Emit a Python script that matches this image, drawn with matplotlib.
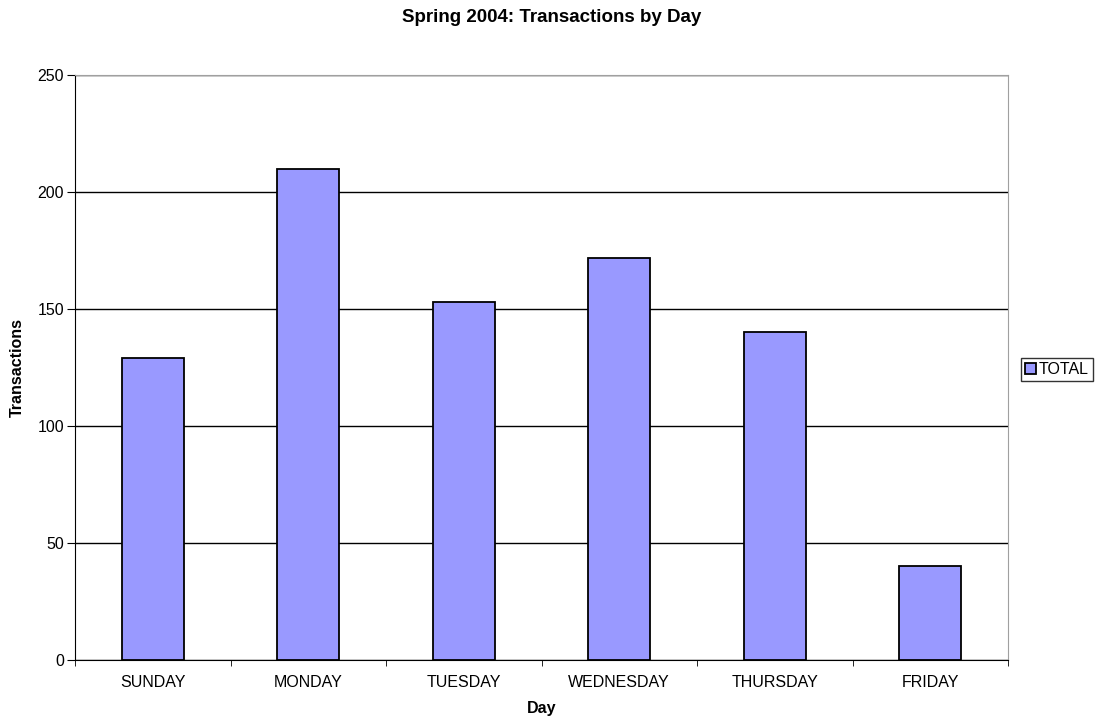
import matplotlib
matplotlib.use("Agg")
import matplotlib.pyplot as plt
import numpy as np

plt.rcParams['font.family'] = ['Liberation Sans', 'DejaVu Sans']

days = ["SUNDAY", "MONDAY", "TUESDAY", "WEDNESDAY", "THURSDAY", "FRIDAY"]
total = [129, 210, 153, 172, 140, 40]
yticks = [0, 50, 100, 150, 200, 250]

fig = plt.figure(figsize=(11.03, 7.23), dpi=100)
ax = fig.add_axes([75 / 1103, 63 / 723, 933 / 1103, 585 / 723])

x = np.arange(len(days))
ax.bar(x, total, width=0.4, color="#9999ff", edgecolor="black", linewidth=1.3,
       label="TOTAL", zorder=3)

ax.set_xlim(-0.5, len(days) - 0.5)
ax.set_ylim(0, 250)
ax.set_yticks(yticks)
ax.yaxis.grid(True, color="black", linewidth=1, zorder=0)
ax.set_axisbelow(True)

ax.set_xticks(x)
ax.set_xticklabels(days, fontsize=11.5)
ax.set_xticks(np.arange(-0.5, len(days)), minor=True)
ax.tick_params(axis="x", which="major", length=0, pad=11)
ax.tick_params(axis="x", which="minor", length=4, direction="out", color="black")
ax.tick_params(axis="y", length=6, direction="out", labelsize=11.5, pad=2)

for s in ["top", "right"]:
    ax.spines[s].set_color("#a0a0a0")
for s in ["left", "bottom"]:
    ax.spines[s].set_color("black")

ax.set_xlabel("Day", fontsize=11.5, fontweight="bold", labelpad=8)
ax.set_ylabel("Transactions", fontsize=11.5, fontweight="bold", labelpad=9)
fig.suptitle("Spring 2004: Transactions by Day", fontsize=13.5, fontweight="bold",
             y=1 - 9 / 723, va="top")

leg = ax.legend(loc="center left", bbox_to_anchor=(1.014, 0.497), fontsize=11.5,
                frameon=True, fancybox=False, edgecolor="black",
                handlelength=0.7, handleheight=0.7, handletextpad=0.15,
                borderpad=0.25, borderaxespad=0)
leg.get_frame().set_linewidth(1)

fig.savefig("out.png", dpi=100)
